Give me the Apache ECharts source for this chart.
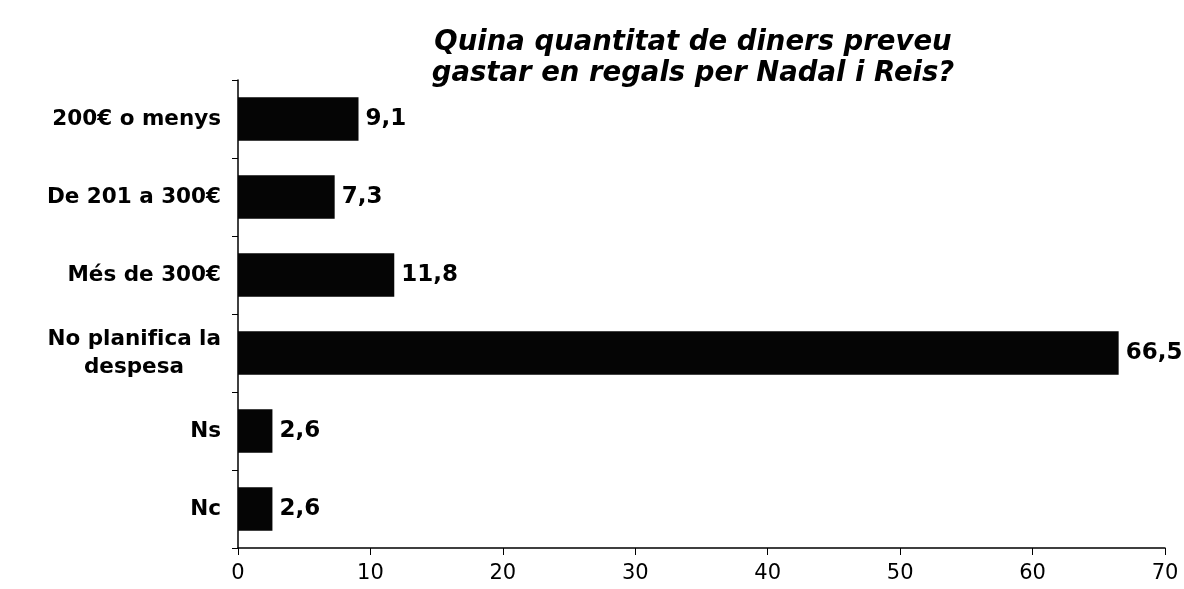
<!DOCTYPE html>
<html lang="ca">
<head>
<meta charset="utf-8" />
<script src="https://cdn.jsdelivr.net/npm/echarts@6/dist/echarts.min.js"></script>
<title>Regals Nadal</title>
<style>
  html, body { margin: 0; padding: 0; background: #fff; }
  #chart { width: 1184px; height: 589px; }
</style>
</head>
<body>
<div id="chart"></div>
<script>
// dades llegides del gràfic
var categories = ['200€ o menys', 'De 201 a 300€', 'Més de 300€', 'No planifica la despesa', 'Ns', 'Nc'];
var values = [9.1, 7.3, 11.8, 66.5, 2.6, 2.6];
var titleText = 'Quina quantitat de diners preveu\ngastar en regals per Nadal i Reis?';

var font = 'DejaVu Sans';
var chart = echarts.init(document.getElementById('chart'));

var option = {
  animation: false,
  backgroundColor: '#fff',
  title: {
    text: titleText,
    left: 688,
    top: 22,
    textAlign: 'center',
    textStyle: {
      fontFamily: font,
      fontSize: 27.5,
      fontWeight: 'bold',
      fontStyle: 'italic',
      color: '#000',
      lineHeight: 31
    }
  },
  grid: { left: 238, right: 19, top: 80, bottom: 41 },
  xAxis: {
    type: 'value',
    min: 0,
    max: 70,
    interval: 10,
    axisLine: { show: true, lineStyle: { color: '#000', width: 1.5 } },
    axisTick: { show: true, length: 7, lineStyle: { color: '#000' } },
    splitLine: { show: false },
    axisLabel: { color: '#000', fontFamily: font, fontSize: 21, margin: 15 }
  },
  yAxis: {
    type: 'category',
    inverse: true,
    data: categories,
    axisLine: { show: true, lineStyle: { color: '#000', width: 1.5 } },
    axisTick: { show: true, length: 6, lineStyle: { color: '#000' } },
    axisLabel: {
      color: '#000',
      fontFamily: font,
      fontSize: 21.5,
      fontWeight: 'bold',
      margin: 17,
      formatter: function (v) {
        if (v === 'No planifica la despesa') {
          return '{a|No planifica la}\n{b|despesa}';
        }
        return v;
      },
      rich: {
        a: { fontFamily: font, fontSize: 21.5, fontWeight: 'bold', color: '#000', lineHeight: 28 },
        b: { fontFamily: font, fontSize: 21.5, fontWeight: 'bold', color: '#000', lineHeight: 28, padding: [0, 37, 0, 0] }
      }
    }
  },
  series: [{
    type: 'bar',
    data: values,
    barCategoryGap: '44%',
    itemStyle: { color: '#050505' },
    label: {
      show: true,
      position: 'right',
      distance: 7,
      color: '#000',
      fontFamily: font,
      fontSize: 23,
      fontWeight: 'bold',
      formatter: function (p) { return String(p.value).replace('.', ','); }
    }
  }]
};

chart.setOption(option);
</script>
</body>
</html>
